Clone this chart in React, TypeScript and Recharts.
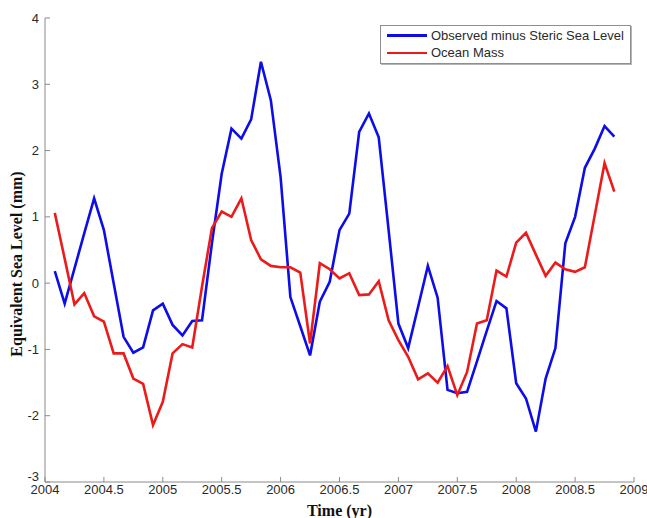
import React from "react";
import { Line, LineChart, XAxis, YAxis } from "recharts";

// monthly samples, decimal years
const TIME = [
  2004.083, 2004.167, 2004.25, 2004.333, 2004.417, 2004.5, 2004.583, 2004.667, 2004.75, 2004.833, 2004.917, 2005.0,
  2005.083, 2005.167, 2005.25, 2005.333, 2005.417, 2005.5, 2005.583, 2005.667, 2005.75, 2005.833, 2005.917, 2006.0,
  2006.083, 2006.167, 2006.25, 2006.333, 2006.417, 2006.5, 2006.583, 2006.667, 2006.75, 2006.833, 2006.917, 2007.0,
  2007.083, 2007.167, 2007.25, 2007.333, 2007.417, 2007.5, 2007.583, 2007.667, 2007.75, 2007.833, 2007.917, 2008.0,
  2008.083, 2008.167, 2008.25, 2008.333, 2008.417, 2008.5, 2008.583, 2008.667, 2008.75, 2008.833,
];

const OBSERVED_MINUS_STERIC = [
  0.18, -0.31, 0.22, 0.75, 1.28, 0.8, 0.0, -0.81, -1.05, -0.97, -0.41, -0.31,
  -0.63, -0.79, -0.57, -0.56, 0.6, 1.65, 2.33, 2.18, 2.47, 3.34, 2.76, 1.6,
  -0.21, -0.65, -1.09, -0.28, 0.02, 0.8, 1.05, 2.28, 2.56, 2.2, 0.8, -0.61,
  -0.98, -0.36, 0.26, -0.22, -1.61, -1.66, -1.64, -1.18, -0.72, -0.27, -0.38, -1.51,
  -1.74, -2.24, -1.44, -0.98, 0.6, 1.0, 1.74, 2.03, 2.37, 2.21,
];

const OCEAN_MASS = [
  1.06, 0.37, -0.32, -0.15, -0.5, -0.58, -1.06, -1.06, -1.44, -1.52, -2.14, -1.79,
  -1.06, -0.92, -0.97, -0.05, 0.83, 1.08, 1.0, 1.28, 0.65, 0.36, 0.26, 0.24,
  0.24, 0.16, -0.91, 0.3, 0.21, 0.07, 0.15, -0.18, -0.17, 0.03, -0.56, -0.86,
  -1.11, -1.45, -1.36, -1.5, -1.25, -1.69, -1.34, -0.61, -0.56, 0.19, 0.1, 0.61,
  0.76, 0.43, 0.11, 0.31, 0.21, 0.17, 0.24, 1.03, 1.81, 1.38,
];

const X_TICKS = [2004, 2004.5, 2005, 2005.5, 2006, 2006.5, 2007, 2007.5, 2008, 2008.5, 2009];
const Y_TICKS = [-3, -2, -1, 0, 1, 2, 3, 4];

const SERIES = [
  { key: "observed", name: "Observed minus Steric Sea Level", color: "#0d0de8" },
  { key: "mass", name: "Ocean Mass", color: "#ec1b1b" },
];

const data = TIME.map((t, i) => ({
  t,
  observed: OBSERVED_MINUS_STERIC[i],
  mass: OCEAN_MASS[i],
}));

const AXIS_COLOR = "#8a8a8a";
const tickFont = "Liberation Sans, Arial, sans-serif";
const tickStyle = { fill: "#2a2a2a", fontSize: 13, fontFamily: tickFont };
const labelFont = "Liberation Serif, Times New Roman, serif";

function LegendBox() {
  return (
    <div
      style={{
        position: "absolute",
        left: 380,
        top: 25,
        border: "1px solid #8f8f8f",
        boxShadow: "1px 1px 0 #b5b5b5",
        background: "#fff",
        padding: "1px 6px 1px 6px",
        fontFamily: tickFont,
        fontSize: 13,
        color: "#2a2a2a",
        lineHeight: "17.4px",
      }}
    >
      {SERIES.map((s) => (
        <div key={s.key} style={{ display: "flex", alignItems: "center" }}>
          <span style={{ display: "inline-block", width: 40, height: 2.5, background: s.color, marginRight: 4 }} />
          <span>{s.name}</span>
        </div>
      ))}
    </div>
  );
}

// y tick text; the bottom one sits a bit higher so it clears the x labels
function YTick(props: any) {
  const { x, y, payload } = props;
  const lift = payload.value === -3 ? -6 : 0;
  return (
    <text x={x} y={y + lift} textAnchor="end" dominantBaseline="central" {...tickStyle}>
      {payload.value}
    </text>
  );
}

function YLabel(props: any) {
  const vb = props.viewBox;
  const cx = vb.x + 16;
  const cy = vb.y + vb.height / 2 + 14;
  return (
    <text
      x={cx}
      y={cy}
      transform={`rotate(-90, ${cx}, ${cy})`}
      textAnchor="middle"
      dominantBaseline="central"
      style={{ fontFamily: labelFont, fontWeight: 700, fontSize: 16, fill: "#111" }}
    >
      Equivalent Sea Level (mm)
    </text>
  );
}

export default function App() {
  return (
    <div style={{ position: "absolute", left: 0, top: 0, width: 647, height: 518, background: "#fff" }}>
      <LineChart width={647} height={518} data={data} margin={{ top: 18, right: 13, left: 0, bottom: 0 }}>
        <XAxis
          dataKey="t"
          type="number"
          domain={[2004, 2009]}
          ticks={X_TICKS}
          interval={0}
          height={36}
          stroke={AXIS_COLOR}
          tickSize={-5}
          tickMargin={8}
          tick={tickStyle}
          tickFormatter={(v) => String(v)}
          label={{
            value: "Time (yr)",
            position: "insideBottom",
            offset: 2,
            style: { fontFamily: labelFont, fontWeight: 700, fontSize: 16, fill: "#111" },
          }}
        />
        <YAxis
          type="number"
          domain={[-3, 4]}
          ticks={Y_TICKS}
          interval={0}
          width={45}
          stroke={AXIS_COLOR}
          tickSize={-5}
          tickMargin={11}
          tick={<YTick />}
          label={<YLabel />}
        />
        {SERIES.map((s) => (
          <Line
            key={s.key}
            dataKey={s.key}
            name={s.name}
            type="linear"
            stroke={s.color}
            strokeWidth={2.6}
            dot={false}
            activeDot={false}
            isAnimationActive={false}
          />
        ))}
      </LineChart>
      <LegendBox />
    </div>
  );
}
